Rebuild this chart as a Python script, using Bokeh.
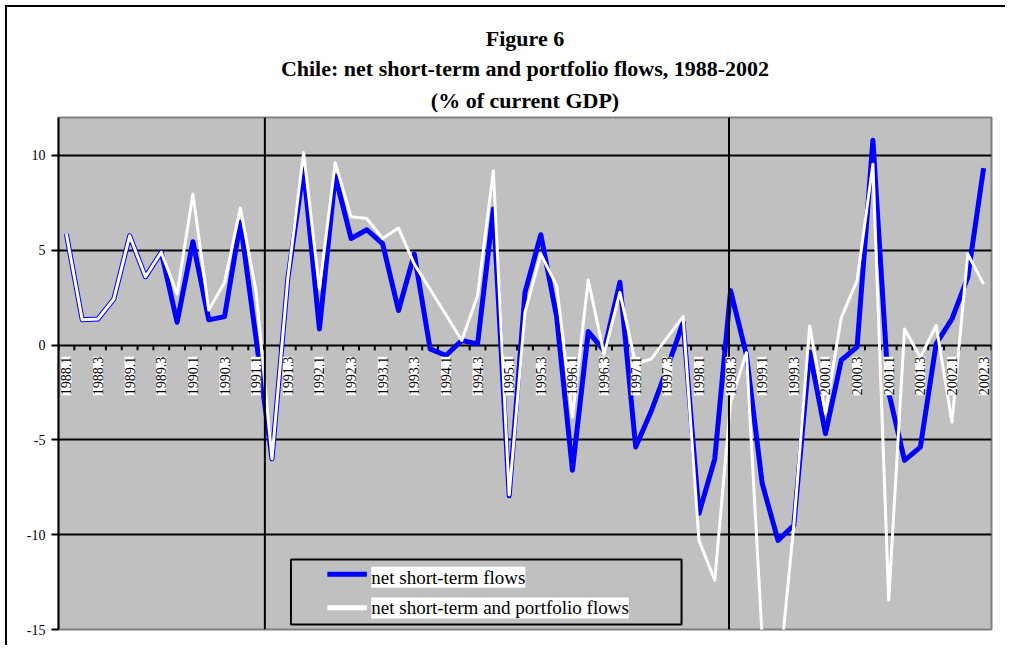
import numpy as np
from bokeh.plotting import figure
from bokeh.models import (Span, Label, LabelSet, ColumnDataSource, FixedTicker,
                          BoxAnnotation, Range1d, Title)
from bokeh.core.properties import value
from bokeh.embed import file_html
from bokeh.resources import INLINE

# ---------------- data ----------------
quarters = [f"{y}.{q}" for y in range(1988, 2003) for q in (1, 2, 3, 4)][:59]

short_term = [5.85, 1.33, 1.38, 2.43, 5.76, 3.6, 4.89, 1.2, 5.45, 1.33,
              1.5, 6.47, 0.3, -6.0, 3.5, 9.3, 0.85, 8.92, 5.62, 6.08,
              5.33, 1.82, 4.8, -0.2, -0.55, 0.24, 0.06, 7.17, -7.95, 2.78,
              5.82, 1.5, -6.6, 0.71, -0.3, 3.31, -5.38, -3.45, -1.2, 1.2,
              -8.88, -6.0, 2.87, -0.5, -7.3, -10.3, -9.5, -0.36, -4.67, -0.8,
              -0.1, 10.8, -2.5, -6.08, -5.38, 0.06, 1.38, 3.57, 9.33]

short_port = [5.85, 1.33, 1.38, 2.43, 5.76, 3.6, 4.89, 2.69, 7.96, 1.85,
              3.3, 7.22, 2.8, -6.0, 3.5, 10.15, 2.95, 9.62, 6.76, 6.67,
              5.62, 6.17, 4.27, 2.94, 1.6, 0.24, 2.6, 9.18, -7.9, 1.73,
              4.8, 3.13, -3.8, 3.43, -0.5, 2.78, -1.0, -0.72, 0.41, 1.5,
              -10.3, -12.4, -3.0, -0.4, -15.5, -18.0, -9.5, 1.0, -3.6, 1.45,
              3.4, 9.54, -13.45, 0.85, -0.64, 1.03, -4.06, 4.8, 3.22]

y_ticks = [-15, -10, -5, 0, 5, 10]
y_tick_labels = ["-15", "-10", "-5", "0", "5", "10"]
grid_values = [-10, -5, 0, 5, 10]
divider_positions = [12.55, 41.9]

series_names = ["net short-term flows", "net short-term and portfolio flows"]
title_lines = ["Figure 6",
               "Chile: net short-term and portfolio flows, 1988-2002",
               "(% of current GDP)"]

# ---------------- figure ----------------
SERIF = "Liberation Serif"
n = len(quarters)
idx = list(range(n))

p = figure(width=1000, height=640,
           x_range=Range1d(-0.5, n - 0.5), y_range=Range1d(-15, 12),
           x_axis_location=None, y_axis_location="left",
           output_backend="svg", toolbar_location=None,
           min_border_left=51, min_border_right=16,
           min_border_top=110, min_border_bottom=18)
p.title.visible = False
p.styles = {"margin-left": "5px", "margin-top": "5px",
            "border-top": "2px solid black", "border-left": "2px solid black"}

p.background_fill_color = "#C0C0C0"
p.border_fill_color = "white"
p.outline_line_color = "#808080"
p.outline_line_width = 2

p.xgrid.visible = False
p.ygrid.ticker = FixedTicker(ticks=grid_values)
p.ygrid.grid_line_color = "black"
p.ygrid.grid_line_width = 2

ax = p.yaxis[0]
ax.ticker = FixedTicker(ticks=y_ticks)
ax.major_label_overrides = dict(zip(y_ticks, y_tick_labels))
ax.axis_line_color = "black"
ax.axis_line_width = 2
ax.major_tick_line_width = 2
ax.major_tick_out = 7
ax.major_tick_in = 0
ax.minor_tick_line_color = None
ax.major_label_standoff = 6
ax.major_label_text_font = SERIF
ax.major_label_text_font_size = "14px"
ax.major_label_text_color = "black"

# titles (stacked above the plot; later ones sit higher)
for txt, so in zip(title_lines[::-1], [9, 2, 4]):
    p.add_layout(Title(text=txt, align="center", standoff=so,
                       text_font=SERIF, text_font_style="bold",
                       text_font_size="22px", text_color="black"), "above")

# vertical divider lines
for d in divider_positions:
    p.add_layout(Span(location=d, dimension="height", line_color="black", line_width=2))

# category axis at zero: tick marks at category boundaries
bounds = np.arange(n + 1) - 0.5
p.segment(x0=bounds, y0=np.zeros(n + 1), x1=bounds, y1=np.full(n + 1, -0.28),
          line_color="black", line_width=2)

# series
p.line(idx, short_term, line_color="#0000FF", line_width=5, line_join="round")
p.line(idx, short_port, line_color="white", line_width=3, line_join="round")

# rotated category labels
lab_src = ColumnDataSource(dict(x=idx[::2], y=[-0.62] * len(idx[::2]), t=quarters[::2]))
p.add_layout(LabelSet(x="x", y="y", text="t", source=lab_src, angle=np.pi / 2,
                      text_align="right", text_baseline="middle",
                      text_font=value(SERIF), text_font_size="14px",
                      text_color="black", background_fill_color="white"))

# legend (drawn manually)
p.add_layout(BoxAnnotation(left=14.2, right=38.9, top=-11.31, bottom=-14.73,
                           fill_alpha=0, line_color="black", line_alpha=1,
                           line_width=2))
p.line([16.5, 19.0], [-12.09, -12.09], line_color="#0000FF", line_width=5)
p.line([16.5, 19.0], [-13.85, -13.85], line_color="white", line_width=5)
for txt, yv in zip(series_names, [-12.25, -13.86]):
    p.add_layout(Label(x=19.28, y=yv, text=txt, text_align="left",
                       text_baseline="middle", text_font=SERIF,
                       text_font_size="19px", text_color="black",
                       background_fill_color="white"))

open("out.html", "w").write(file_html(p, INLINE))
